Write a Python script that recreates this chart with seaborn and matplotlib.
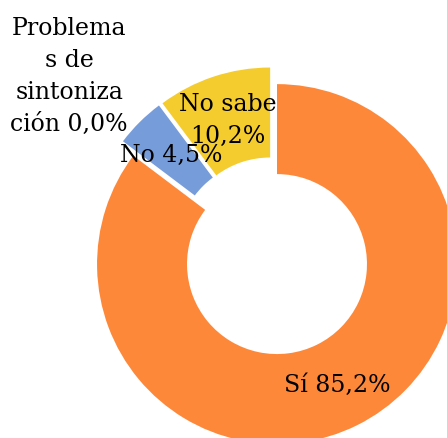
import seaborn as sns
import matplotlib.pyplot as plt

# order: counterclockwise from 12 o'clock
categories = ["No sabe", "Problemas de sintonización", "No", "Sí"]
values = [10.2, 0.0, 4.5, 85.2]
label_texts = ["No sabe\n10,2%", "Problema\ns de\nsintoniza\nción 0,0%", "No 4,5%", "Sí 85,2%"]
colors = ["#F5CC2E", "#A5A5A5", "#779CDA", "#FE8839"]

sns.set_style("white")
plt.rcParams["font.family"] = ["DejaVu Serif"]

fig = plt.figure(figsize=(4.47, 4.39), dpi=100)
ax = fig.add_axes([0, 0, 1, 1])

wedges, texts = ax.pie(
    values,
    labels=label_texts,
    colors=colors,
    startangle=90,
    counterclock=True,
    explode=[0.05] * len(values),
    labeldistance=0.75,
    wedgeprops=dict(width=0.5, linewidth=0),
    textprops=dict(fontsize=17, color="black"),
)

for t in texts:
    t.set_ha("center")
    t.set_va("center")
    t.set_linespacing(1.5)

# the 0% label sits outside the ring, top left
texts[1].set_position((-1.133, 1.005))

ax.set_aspect("equal")
ax.set_xlim(-1.517, 0.967)
ax.set_ylim(-1.011, 1.428)
ax.axis("off")

plt.savefig("out.png", dpi=100)
